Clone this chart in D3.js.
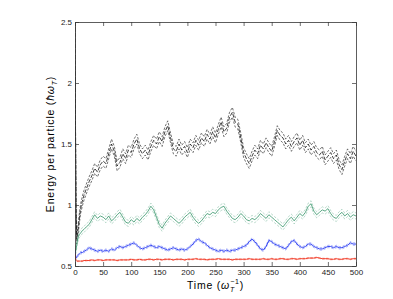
<!DOCTYPE html>
<html>
<head>
    <script src="https://cdnjs.cloudflare.com/ajax/libs/d3/7.8.5/d3.min.js"></script>
    <style>
        body { margin: 0; background: #fff; }
        text { font-family: "Liberation Sans", "DejaVu Sans", sans-serif; }
    </style>
</head>
<body>
    <div id="chart"></div>
    <script>
        // time points (omega_T^-1)
        const times = [0, 1, 2, 3, 4, 6, 8, 10, 13, 16,
            20, 25, 30, 35, 40, 45, 50, 55, 60, 65, 70, 75, 80, 85, 90, 95, 100, 105, 110, 115,
            120, 125, 130, 135, 140, 145, 150, 155, 160, 165, 170, 175, 180, 185, 190, 195, 200, 205, 210, 215,
            220, 225, 230, 235, 240, 245, 250, 255, 260, 265, 270, 275, 280, 285, 290, 295, 300, 305, 310, 315,
            320, 325, 330, 335, 340, 345, 350, 355, 360, 365, 370, 375, 380, 385, 390, 395, 400, 405, 410, 415,
            420, 425, 430, 435, 440, 445, 450, 455, 460, 465, 470, 475, 480, 485, 490, 495, 500]

        const blackVals = [2.5, 1.55, 0.95, 0.72, 0.74, 0.82, 0.9, 0.97, 1.03, 1.08,
            1.13, 1.19, 1.24, 1.3, 1.27, 1.33, 1.36, 1.34, 1.42, 1.5,
            1.44, 1.32, 1.35, 1.42, 1.38, 1.45, 1.43, 1.5, 1.54, 1.46,
            1.42, 1.45, 1.41, 1.48, 1.53, 1.5, 1.56, 1.52, 1.6, 1.65,
            1.55, 1.46, 1.44, 1.5, 1.45, 1.48, 1.43, 1.5, 1.47, 1.53,
            1.49, 1.55, 1.52, 1.58, 1.54, 1.6, 1.55, 1.62, 1.68, 1.6,
            1.63, 1.72, 1.76, 1.68, 1.66, 1.55, 1.43, 1.38, 1.34, 1.4,
            1.45, 1.42, 1.49, 1.46, 1.51, 1.47, 1.44, 1.52, 1.61, 1.57,
            1.55, 1.5, 1.53, 1.48, 1.52, 1.55, 1.49, 1.53, 1.47, 1.5,
            1.45, 1.48, 1.43, 1.41, 1.44, 1.37, 1.4, 1.43, 1.38, 1.41,
            1.33, 1.29, 1.36, 1.42, 1.38, 1.44, 1.4]

        const greenVals = [0.65, 0.62, 0.64, 0.67, 0.7, 0.74, 0.76, 0.77, 0.79, 0.8,
            0.82, 0.84, 0.88, 0.92, 0.89, 0.91, 0.9, 0.88, 0.91, 0.87,
            0.89, 0.92, 0.94, 0.9, 0.86, 0.85, 0.88, 0.86, 0.89, 0.87,
            0.9, 0.92, 0.95, 0.99, 0.96, 0.9, 0.84, 0.81, 0.85, 0.88,
            0.91, 0.89, 0.87, 0.85, 0.87, 0.9, 0.92, 0.94, 0.9, 0.87,
            0.85, 0.87, 0.9, 0.93, 0.92, 0.94, 0.93, 0.96, 0.98, 0.99,
            0.95, 0.92, 0.89, 0.88, 0.9, 0.93, 0.91, 0.88, 0.87, 0.89,
            0.88, 0.9, 0.93, 0.91, 0.89, 0.92, 0.9, 0.88, 0.86, 0.84,
            0.82, 0.85, 0.88, 0.9, 0.87, 0.9, 0.93, 0.91, 0.94, 0.99,
            1.01, 0.95, 0.92, 0.94, 0.96, 0.95, 0.97, 0.93, 0.9, 0.89,
            0.92, 0.94, 0.91, 0.93, 0.9, 0.92, 0.91]

        const blueVals = [0.62, 0.58, 0.57, 0.57, 0.58, 0.59, 0.6, 0.61, 0.61, 0.62,
            0.63, 0.65, 0.64, 0.63, 0.62, 0.63, 0.62, 0.63, 0.62, 0.64,
            0.63, 0.65, 0.66, 0.65, 0.66, 0.67, 0.68, 0.69, 0.67, 0.65,
            0.64, 0.65, 0.66, 0.67, 0.66, 0.65, 0.66, 0.65, 0.64, 0.63,
            0.64, 0.65, 0.64, 0.63, 0.64, 0.63, 0.64, 0.66, 0.68, 0.71,
            0.72, 0.7, 0.69, 0.67, 0.65, 0.64, 0.63, 0.62, 0.63, 0.62,
            0.63, 0.62, 0.63, 0.63, 0.64, 0.65, 0.66, 0.67, 0.7, 0.72,
            0.7, 0.67, 0.64, 0.63, 0.66, 0.71, 0.7, 0.68, 0.67, 0.66,
            0.65, 0.64, 0.67, 0.7, 0.71, 0.68, 0.66, 0.65, 0.66, 0.68,
            0.68, 0.66, 0.65, 0.64, 0.64, 0.65, 0.66, 0.66, 0.65, 0.66,
            0.65, 0.65, 0.66, 0.67, 0.69, 0.68, 0.68]

        const redVals = [0.6, 0.56, 0.545, 0.54, 0.54, 0.54, 0.54, 0.54, 0.54, 0.545,
            0.545, 0.545, 0.55, 0.545, 0.55, 0.55, 0.545, 0.55, 0.55, 0.55,
            0.55, 0.545, 0.55, 0.55, 0.55, 0.55, 0.555, 0.55, 0.55, 0.555,
            0.55, 0.55, 0.555, 0.555, 0.55, 0.555, 0.555, 0.55, 0.555, 0.555,
            0.555, 0.55, 0.555, 0.555, 0.555, 0.55, 0.555, 0.555, 0.555, 0.56,
            0.555, 0.555, 0.555, 0.55, 0.555, 0.555, 0.555, 0.56, 0.555, 0.555,
            0.555, 0.555, 0.55, 0.555, 0.555, 0.555, 0.555, 0.555, 0.56, 0.555,
            0.555, 0.555, 0.555, 0.56, 0.555, 0.555, 0.56, 0.555, 0.555, 0.56,
            0.56, 0.555, 0.555, 0.56, 0.56, 0.555, 0.56, 0.56, 0.56, 0.565,
            0.565, 0.565, 0.57, 0.565, 0.56, 0.56, 0.56, 0.555, 0.555, 0.56,
            0.555, 0.555, 0.56, 0.56, 0.555, 0.56, 0.56]

        const seriesColors = ["#111111", "#4a9f78", "#2236f2", "#f0311c"]
        const seriesSpread = [0.04, 0.025, 0.01, 0.004]
        const xTicks = [0, 50, 100, 150, 200, 250, 300, 350, 400, 450, 500]
        const yTicks = [0.5, 1, 1.5, 2, 2.5]

        const W = 393, H = 299
        const MARGIN = { top: 22, right: 37, bottom: 33, left: 75 }
        let chartW = W - MARGIN.left - MARGIN.right
        let chartH = H - MARGIN.top - MARGIN.bottom

        let svg = d3.select("#chart").append("svg")
            .attr("width", W).attr("height", H)

        let g = svg.append("g").attr("transform", `translate(${MARGIN.left},${MARGIN.top})`)

        let x = d3.scaleLinear().domain([0, 500]).range([0, chartW])
        let y = d3.scaleLinear().domain([0.5, 2.5]).range([chartH, 0])

        let clip = svg.append("clipPath").attr("id", "clip")
        clip.append("rect").attr("width", chartW).attr("height", chartH)

        let plot = g.append("g").attr("clip-path", "url(#clip)")

        let allVals = [blackVals, greenVals, blueVals, redVals]

        allVals.forEach(function (vals, i) {
            let col = seriesColors[i]
            let sp = seriesSpread[i]
            let pts = times.map((t, k) => ({ t: t, v: vals[k] }))
            let line = off => d3.line().x(d => x(d.t)).y(d => y(d.v + off))

            ;[sp, -sp].forEach(function (off) {
                plot.append("path").datum(pts)
                    .attr("d", line(off))
                    .attr("fill", "none")
                    .attr("stroke", col)
                    .attr("stroke-width", 0.7)
                    .attr("stroke-opacity", i == 0 ? 0.85 : 0.55)
                    .attr("stroke-dasharray", "2.5,1.5")
            })
            plot.append("path").datum(pts)
                .attr("d", line(0))
                .attr("fill", "none")
                .attr("stroke", col)
                .attr("stroke-width", i == 0 ? 0.8 : 0.9)
                .attr("stroke-dasharray", i == 0 ? "4,1.5" : null)
        })

        // box with inward ticks
        let axStyle = sel => {
            sel.select(".domain").attr("stroke", "#333").attr("stroke-width", 0.8)
            sel.selectAll(".tick line").attr("stroke", "#333").attr("stroke-width", 0.7)
            sel.selectAll("text").style("font-size", "8px").attr("fill", "#222")
        }

        g.append("g").attr("transform", `translate(0,${chartH})`)
            .call(d3.axisBottom(x).tickValues(xTicks).tickSizeInner(-4).tickSizeOuter(0).tickPadding(3))
            .call(axStyle)
        g.append("g")
            .call(d3.axisTop(x).tickValues(xTicks).tickSizeInner(-4).tickSizeOuter(0).tickFormat(""))
            .call(axStyle)
        g.append("g")
            .call(d3.axisLeft(y).tickValues(yTicks).tickSizeInner(-4).tickSizeOuter(0).tickPadding(3).tickFormat(d3.format("")))
            .call(axStyle)
        g.append("g").attr("transform", `translate(${chartW},0)`)
            .call(d3.axisRight(y).tickValues(yTicks).tickSizeInner(-4).tickSizeOuter(0).tickFormat(""))
            .call(axStyle)

        // axis titles
        let xl = svg.append("text")
            .attr("x", MARGIN.left + chartW / 2).attr("y", 289)
            .attr("text-anchor", "middle")
            .style("font-size", "10.5px").style("letter-spacing", "0.8px")
        xl.append("tspan").text("Time  (")
        xl.append("tspan").style("font-style", "italic").text("ω")
        xl.append("tspan").attr("dy", 3).style("font-size", "7px").style("font-style", "italic").text("T")
        xl.append("tspan").attr("dx", -5).attr("dy", -8).style("font-size", "7px").text("−1")
        xl.append("tspan").attr("dy", 5).text(")")

        let yl = svg.append("text")
            .attr("transform", `translate(54,${MARGIN.top + chartH / 2}) rotate(-90)`)
            .attr("text-anchor", "middle")
            .style("font-size", "10.5px").style("letter-spacing", "0.8px")
        yl.append("tspan").text("Energy per particle  (")
        yl.append("tspan").style("font-style", "italic").text("ħω")
        yl.append("tspan").attr("dy", 3).style("font-size", "7px").style("font-style", "italic").text("T")
        yl.append("tspan").attr("dy", -3).text(")")
    </script>
</body>
</html>
